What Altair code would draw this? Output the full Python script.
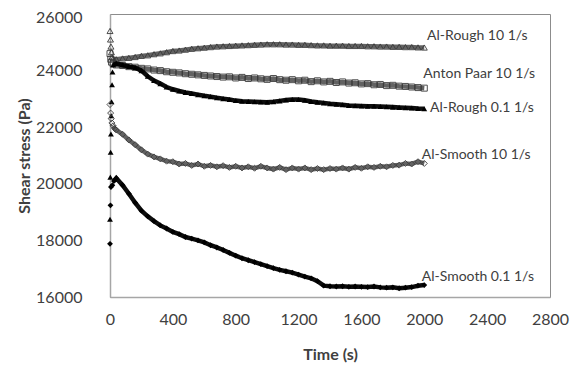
import altair as alt
import pandas as pd

# ---- data ----
GRID = [40, 80, 120, 160, 200, 240, 280, 320, 360, 400, 440, 480, 520, 560, 600,
        640, 680, 720, 760, 800, 840, 880, 920, 960, 1000, 1040, 1080, 1120, 1160,
        1200, 1240, 1280, 1320, 1360, 1400, 1440, 1480, 1520, 1560, 1600, 1640,
        1680, 1720, 1760, 1800, 1840, 1880, 1920, 1960, 2000]

ar10_t = [0, 3, 6, 9, 12, 20] + GRID
ar10_v = [25400, 25100, 24850, 24650, 24480, 24420,
          24400, 24430, 24450, 24480, 24520, 24540, 24580, 24610, 24650, 24690,
          24710, 24740, 24770, 24790, 24810, 24830, 24850, 24860, 24870, 24880,
          24890, 24900, 24910, 24920, 24930, 24930, 24930, 24920, 24920, 24910,
          24910, 24900, 24890, 24890, 24880, 24880, 24880, 24870, 24870, 24870,
          24860, 24860, 24850, 24850, 24840, 24840, 24830, 24830, 24820, 24815]

ap10_t = [0, 5, 10, 20] + GRID
ap10_v = [24600, 24400, 24300, 24250,
          24200, 24180, 24140, 24120, 24080, 24060, 24020, 24000, 23960, 23940,
          23920, 23890, 23870, 23850, 23830, 23810, 23790, 23770, 23780, 23740,
          23760, 23720, 23740, 23710, 23690, 23720, 23680, 23660, 23680, 23640,
          23660, 23610, 23640, 23600, 23620, 23580, 23600, 23560, 23570, 23530,
          23540, 23500, 23510, 23470, 23480, 23450, 23440, 23420, 23400, 23380]

ar01_t = [0, 2, 4, 6, 8, 10, 13, 16, 20] + GRID
ar01_v = [18750, 20236, 21116, 21760, 22408, 22900, 23500, 23950, 24200,
          24250, 24200, 24150, 24100, 24000, 23800, 23650, 23540, 23420, 23340,
          23280, 23230, 23190, 23150, 23110, 23080, 23040, 23010, 22980, 22940,
          22920, 22910, 22900, 22890, 22880, 22900, 22930, 22960, 22980, 22980,
          22950, 22910, 22880, 22860, 22830, 22810, 22790, 22770, 22760, 22750,
          22740, 22740, 22730, 22720, 22710, 22700, 22690, 22680, 22660, 22650]

as10_t = [0, 4, 8, 12, 20, 30] + GRID
as10_v = [22800, 22500, 22300, 22150, 22050, 21950,
          21900, 21750, 21550, 21380, 21200, 21050, 20950, 20880, 20800, 20780,
          20700, 20720, 20650, 20700, 20620, 20650, 20600, 20640, 20580, 20620,
          20560, 20600, 20550, 20620, 20560, 20520, 20580, 20500, 20560, 20520,
          20560, 20500, 20540, 20500, 20540, 20520, 20560, 20520, 20580, 20550,
          20600, 20580, 20620, 20600, 20650, 20660, 20720, 20700, 20780, 20720]

as01_t = [0, 3, 6, 15, 25] + GRID
as01_v = [17880, 19239, 19884, 19950, 20100,
          20200, 19950, 19650, 19330, 19050, 18850, 18680, 18530, 18420, 18300,
          18220, 18120, 18060, 18000, 17930, 17830, 17750, 17660, 17560, 17460,
          17370, 17300, 17230, 17160, 17090, 17020, 16960, 16910, 16860, 16790,
          16720, 16660, 16560, 16400, 16380, 16370, 16380, 16360, 16370, 16360,
          16350, 16370, 16340, 16330, 16340, 16310, 16330, 16350, 16400, 16420]

labels = ["Al-Rough 10 1/s", "Anton Paar 10 1/s", "Al-Rough 0.1 1/s",
          "Al-Smooth 10 1/s", "Al-Smooth 0.1 1/s"]
label_t = [2018, 1994, 2037, 1984, 1984]
label_v = [25225, 23877, 22680, 21035, 16694]

x_ticks = [0, 400, 800, 1200, 1600, 2000, 2400, 2800]
y_ticks = [16000, 18000, 20000, 22000, 24000, 26000]

# ---- build chart ----
series = [
    ("AR10", ar10_t, ar10_v, "triangle-up", False),
    ("AP10", ap10_t, ap10_v, "square", False),
    ("AR01", ar01_t, ar01_v, "triangle-up", True),
    ("AS10", as10_t, as10_v, "diamond", False),
    ("AS01", as01_t, as01_v, "diamond", True),
]

FONT = "Lato"
TXT = "#404040"
xs = alt.Scale(domain=[0, 2800], nice=False)
ys = alt.Scale(domain=[16000, 26000], nice=False)

x_enc = alt.X("t:Q", scale=xs, axis=alt.Axis(
    values=x_ticks, title="Time (s)", grid=False, ticks=False, format="d",
    labelFlush=False,
    labelFont=FONT, labelFontSize=16, labelColor=TXT, labelPadding=14,
    titleFont=FONT, titleFontSize=16, titleFontWeight="bold", titleColor=TXT,
    titlePadding=19, domainColor="#a6a6a6", domainWidth=1.5))
y_enc = alt.Y("v:Q", scale=ys, axis=alt.Axis(
    values=y_ticks, title="Shear stress (Pa)", grid=False, ticks=False, format="d",
    labelFlush=False,
    labelOffset={"condition": {"test": "datum.value == 26000", "value": 3}, "value": 0},
    labelFont=FONT, labelFontSize=16, labelColor=TXT, labelPadding=28,
    titleFont=FONT, titleFontSize=16, titleFontWeight="bold", titleColor=TXT,
    titleX=-86, titleBaseline="middle", domainColor="#a6a6a6", domainWidth=1.5))

layers = []
for name, tt, vv, shape, filled in series:
    df = pd.DataFrame({"t": tt, "v": vv})
    lc = "#000000" if filled else "#5a5a5a"
    line = alt.Chart(df).transform_filter("datum.t >= 20").mark_line(
        color=lc, strokeWidth=4.5, opacity=0.95).encode(x=x_enc, y=y_enc)
    if filled:
        pts = alt.Chart(df).mark_point(shape=shape, filled=True, color="#000000",
                                       size=34, opacity=1).encode(x=x_enc, y=y_enc)
    else:
        pts = alt.Chart(df).mark_point(shape=shape, filled=False, color="#3a3a3a",
                                       strokeWidth=0.9, size=36, opacity=1).encode(x=x_enc, y=y_enc)
    layers += [line, pts]

lab_df = pd.DataFrame({"label": labels, "t": label_t, "v": label_v})
text = alt.Chart(lab_df).mark_text(align="left", baseline="middle", font=FONT,
                                   fontSize=14, color=TXT).encode(
    x=alt.X("t:Q", scale=xs), y=alt.Y("v:Q", scale=ys), text="label:N")
layers.append(text)

chart = alt.layer(*layers).properties(
    width=440, height=283,
    autosize=alt.AutoSizeParams(type="none"),
    padding={"left": 102, "top": 6, "right": 21, "bottom": 71},
).configure_view(stroke="#8c8c8c", strokeWidth=1)

chart.save("out.html", embed_options={"renderer": "svg", "actions": False})
